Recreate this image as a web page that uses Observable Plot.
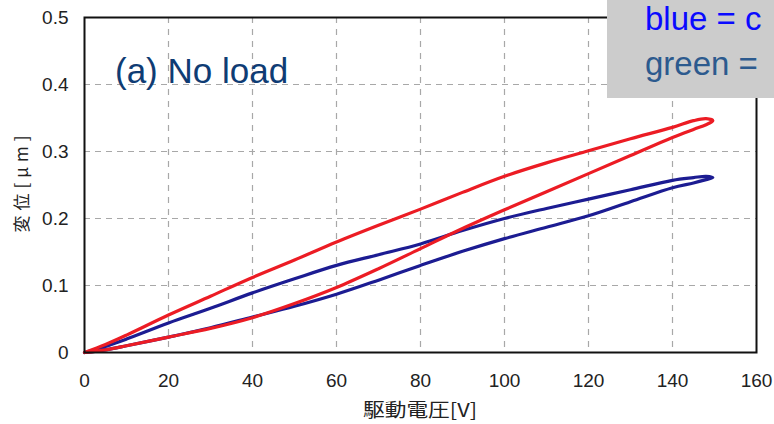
<!DOCTYPE html>
<html>
<head>
<meta charset="utf-8">
<script src="https://cdn.jsdelivr.net/npm/d3@7"></script>
<script src="https://cdn.jsdelivr.net/npm/@observablehq/plot@0.6"></script>
<style>
  html, body { margin: 0; padding: 0; background: #fff; }
  #wrap { position: relative; width: 774px; height: 424px; overflow: hidden; }
  #overlay { position: absolute; left: 0; top: 0; pointer-events: none; }
</style>
</head>
<body>
<div id="wrap"></div>
<script>
// ---- data ----
const xTicks = [0, 20, 40, 60, 80, 100, 120, 140, 160];
const yTicks = [0, 0.1, 0.2, 0.3, 0.4, 0.5];
const xLabel = "駆動電圧[V]";
const yLabel = "変位[μm]";
const panelTitle = "(a) No load";
const legendLines = ["blue = c", "green ="];

// drive voltage (V) sampled along each branch of the hysteresis loops
const voltage = [0, 5, 10, 20, 30, 40, 50, 60, 70, 80, 90, 100, 110, 120, 130, 140, 145, 148, 149.6];

// red loop: ascending (lower) and descending (upper) branch, displacement in μm
const redAscending  = [0, 0.004, 0.010, 0.023, 0.036, 0.052, 0.073, 0.097, 0.125, 0.155, 0.185, 0.213, 0.240, 0.267, 0.294, 0.321, 0.333, 0.340, 0.346];
const redDescending = [0, 0.012, 0.026, 0.056, 0.084, 0.112, 0.138, 0.165, 0.190, 0.214, 0.239, 0.263, 0.283, 0.301, 0.319, 0.336, 0.346, 0.349, 0.346];

// blue loop
const blueAscending  = [0, 0.004, 0.010, 0.023, 0.037, 0.053, 0.069, 0.087, 0.108, 0.130, 0.151, 0.170, 0.187, 0.204, 0.225, 0.246, 0.253, 0.258, 0.261];
const blueDescending = [0, 0.009, 0.020, 0.044, 0.066, 0.089, 0.110, 0.130, 0.146, 0.162, 0.182, 0.200, 0.215, 0.229, 0.243, 0.257, 0.261, 0.263, 0.261];

function loop(asc, desc, name) {
  const pts = voltage.map((v, i) => ({x: v, y: asc[i], series: name}));
  for (let i = voltage.length - 2; i >= 0; i--) pts.push({x: voltage[i], y: desc[i], series: name});
  return pts;
}
const blueLoop = loop(blueAscending, blueDescending, "blue");
const redLoop = loop(redAscending, redDescending, "red");

const chart = Plot.plot({
  width: 774,
  height: 424,
  marginLeft: 84,
  marginRight: 18,
  marginTop: 17,
  marginBottom: 72,
  style: {
    fontFamily: "'Liberation Sans', Arial, 'Noto Sans CJK JP', sans-serif",
    fontSize: "19px",
    color: "#222",
    background: "#fff",
    overflow: "visible"
  },
  x: {domain: [0, 160]},
  y: {domain: [0, 0.5]},
  marks: [
    Plot.gridX(xTicks.slice(1, -1), {stroke: "#a8a8a8", strokeOpacity: 1, strokeWidth: 1.2, strokeDasharray: "6,6"}),
    Plot.gridY(yTicks.slice(1, -1), {stroke: "#a8a8a8", strokeOpacity: 1, strokeWidth: 1.2, strokeDasharray: "6,5"}),
    Plot.axisX({ticks: xTicks, tickSize: 0, tickPadding: 21, label: null, fontSize: 19, tickFormat: d => String(d)}),
    Plot.axisY({ticks: yTicks, tickSize: 0, tickPadding: 16, label: null, fontSize: 19, tickFormat: d => d === 0 ? "0" : d.toFixed(1)}),
    Plot.line(blueLoop, {x: "x", y: "y", stroke: "#1c1c92", strokeWidth: 3.2, curve: "catmull-rom"}),
    Plot.line(redLoop, {x: "x", y: "y", stroke: "#ec1c24", strokeWidth: 3.2, curve: "catmull-rom"}),
    Plot.frame({stroke: "#111", strokeWidth: 2})
  ]
});

const wrap = document.getElementById("wrap");
wrap.appendChild(chart);

// overlay: titles, axis labels, legend box
const NS = "http://www.w3.org/2000/svg";
const ov = document.createElementNS(NS, "svg");
ov.setAttribute("id", "overlay");
ov.setAttribute("width", 774);
ov.setAttribute("height", 424);
function el(tag, attrs, text) {
  const e = document.createElementNS(NS, tag);
  for (const k in attrs) e.setAttribute(k, attrs[k]);
  if (text != null) e.textContent = text;
  ov.appendChild(e);
  return e;
}
el("text", {x: 115, y: 83, fill: "#0f3c74", "font-family": "'Liberation Sans', Arial, sans-serif", "font-size": 35}, panelTitle);
el("rect", {x: 607, y: 0, width: 167, height: 98, fill: "#cccccc"});
el("text", {x: 645, y: 30, fill: "#0a0aff", "font-family": "'Liberation Sans', Arial, sans-serif", "font-size": 33}, legendLines[0]);
el("text", {x: 645, y: 75, fill: "#2c5a8e", "font-family": "'Liberation Sans', Arial, sans-serif", "font-size": 33}, legendLines[1]);
el("text", {x: 420, y: 417, fill: "#222", "text-anchor": "middle", "font-family": "'Noto Sans CJK JP', sans-serif", "font-size": 19, textLength: 114, lengthAdjust: "spacingAndGlyphs"}, xLabel);
el("text", {transform: "translate(28,184) rotate(-90)", fill: "#222", "text-anchor": "middle", "font-family": "'Noto Sans CJK JP', sans-serif", "font-size": 17, textLength: 97, lengthAdjust: "spacing"}, yLabel);
wrap.appendChild(ov);
</script>
</body>
</html>
